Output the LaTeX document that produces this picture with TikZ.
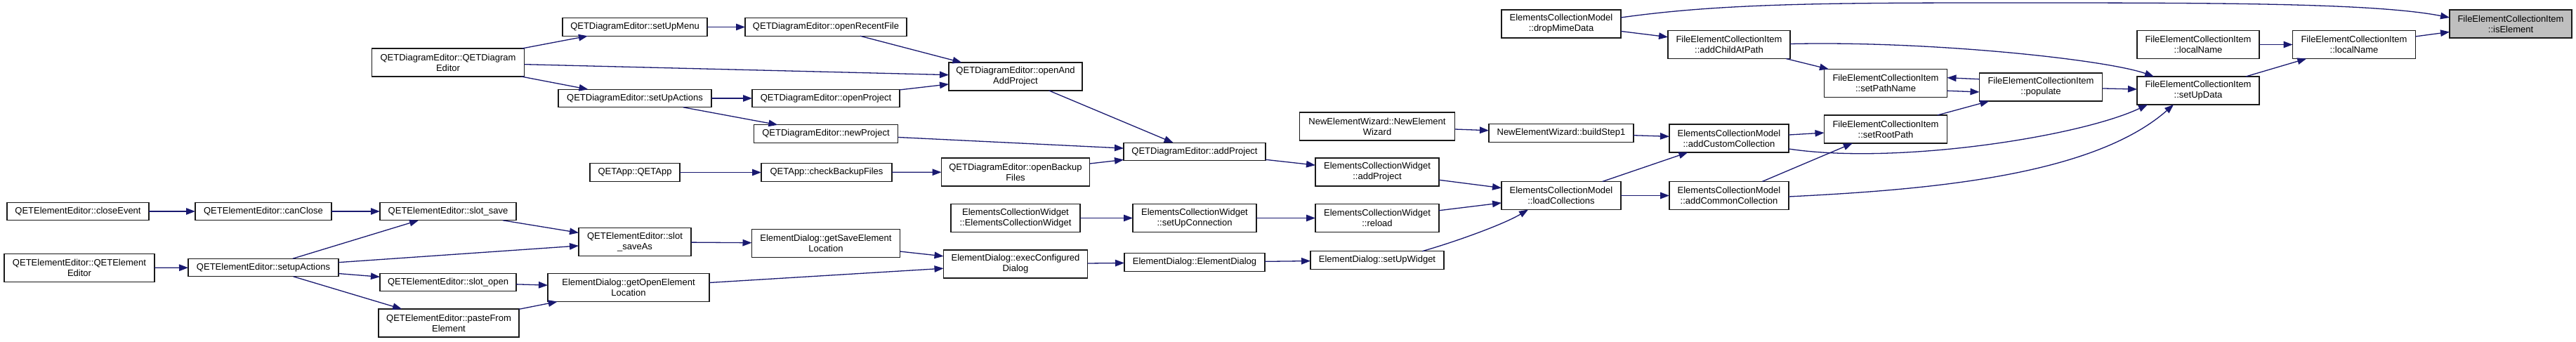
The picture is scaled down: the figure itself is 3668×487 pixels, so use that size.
\documentclass[tikz,border=0pt]{standalone}
\usepackage{fontspec}
\setmainfont{Liberation Sans}
\usetikzlibrary{arrows.meta,calc}
\definecolor{edgec}{HTML}{191970}
\definecolor{hl}{HTML}{BFBFBF}
\begin{document}
\begin{tikzpicture}[x=1pt,y=-1pt,
  box/.style={draw=black!90,line width=1.4pt,fill=white,inner sep=0pt,outer sep=0pt,align=center,
    font=\fontsize{13}{15}\selectfont,minimum height=25.5pt},
  two/.style={minimum height=40pt},
  cur/.style={fill=hl},
  edge/.style={draw=edgec,line width=1.3pt,-{Triangle[length=13pt,width=9.5pt]}}]
\useasboundingbox (0,0) rectangle (3668,487);
% nodes
\node[box,two,minimum width=217pt] (qdector) at (638,89) {QETDiagramEditor::QETDiagram\\Editor};
\node[box,minimum width=206pt] (setUpMenu) at (904,38.5) {QETDiagramEditor::setUpMenu};
\node[box,minimum width=218pt] (setUpActions) at (904,140) {QETDiagramEditor::setUpActions};
\node[box,minimum width=128pt] (qetapp) at (904,245.5) {QETApp::QETApp};
\node[box,minimum width=202pt] (closeEvent) at (111,301) {QETElementEditor::closeEvent};
\node[box,two,minimum width=214pt] (qeector) at (113,381.5) {QETElementEditor::QETElement\\Editor};
\node[box,minimum width=194pt] (canClose) at (375,301) {QETElementEditor::canClose};
\node[box,minimum width=214pt] (setupActions) at (375,381) {QETElementEditor::setupActions};
\node[box,minimum width=194pt] (slotSave) at (638,301) {QETElementEditor::slot\_save};
\node[box,minimum width=194pt] (slotOpen) at (638,402) {QETElementEditor::slot\_open};
\node[box,two,minimum width=200pt] (pasteFrom) at (639,460) {QETElementEditor::pasteFrom\\Element};
\node[box,two,minimum width=160pt] (saveAs) at (904,344.5) {QETElementEditor::slot\\\_saveAs};
\node[box,two,minimum width=230pt] (getOpen) at (895,409.5) {ElementDialog::getOpenElement\\Location};
\node[box,minimum width=230pt] (openRecent) at (1176,38.5) {QETDiagramEditor::openRecentFile};
\node[box,two,minimum width=190pt] (openAndAdd) at (1446,109) {QETDiagramEditor::openAnd\\AddProject};
\node[box,minimum width=210pt] (openProject) at (1176,140) {QETDiagramEditor::openProject};
\node[box,minimum width=205pt] (newProject) at (1176,190.5) {QETDiagramEditor::newProject};
\node[box,minimum width=202pt] (addProject) at (1701,216) {QETDiagramEditor::addProject};
\node[box,minimum width=186pt] (checkBackup) at (1177,245.5) {QETApp::checkBackupFiles};
\node[box,two,minimum width=211pt] (openBackup) at (1446,245) {QETDiagramEditor::openBackup\\Files};
\node[box,two,minimum width=184pt] (ecwCtor) at (1446,310.5) {ElementsCollectionWidget\\::ElementsCollectionWidget};
\node[box,two,minimum width=176pt] (setUpConn) at (1701,310.5) {ElementsCollectionWidget\\::setUpConnection};
\node[box,two,minimum width=211pt] (getSave) at (1176,346.5) {ElementDialog::getSaveElement\\Location};
\node[box,two,minimum width=205pt] (execConf) at (1446,376) {ElementDialog::execConfigured\\Dialog};
\node[box,minimum width=200pt] (edCtor) at (1701,373.5) {ElementDialog::ElementDialog};
\node[box,two,minimum width=170pt] (dropMime) at (2223,34) {ElementsCollectionModel\\::dropMimeData};
\node[box,two,minimum width=174pt] (addChild) at (2462,63.5) {FileElementCollectionItem\\::addChildAtPath};
\node[box,two,minimum width=175pt] (setPathName) at (2685,118.5) {FileElementCollectionItem\\::setPathName};
\node[box,two,minimum width=221pt] (wizCtor) at (1961,180) {NewElementWizard::NewElement\\Wizard};
\node[box,minimum width=206pt] (buildStep1) at (2223,189.5) {NewElementWizard::buildStep1};
\node[box,two,minimum width=170pt] (addCustom) at (2462,197) {ElementsCollectionModel\\::addCustomCollection};
\node[box,two,minimum width=175pt] (setRootPath) at (2685,184) {FileElementCollectionItem\\::setRootPath};
\node[box,two,minimum width=176pt] (ecwAddProject) at (1961,245) {ElementsCollectionWidget\\::addProject};
\node[box,two,minimum width=176pt] (reload) at (1961,310.5) {ElementsCollectionWidget\\::reload};
\node[box,minimum width=190pt] (setUpWidget) at (1961,370.5) {ElementDialog::setUpWidget};
\node[box,two,minimum width=170pt] (loadColl) at (2223,278.5) {ElementsCollectionModel\\::loadCollections};
\node[box,two,minimum width=170pt] (addCommon) at (2462,278.5) {ElementsCollectionModel\\::addCommonCollection};
\node[box,two,cur,minimum width=174pt] (isElement) at (3575,34) {FileElementCollectionItem\\::isElement};
\node[box,two,minimum width=174pt] (localName1) at (3130,63.5) {FileElementCollectionItem\\::localName};
\node[box,two,minimum width=175pt] (localName2) at (3352,63.5) {FileElementCollectionItem\\::localName};
\node[box,two,minimum width=175pt] (populate) at (2906,124) {FileElementCollectionItem\\::populate};
\node[box,two,minimum width=174pt] (setUpData) at (3130,129) {FileElementCollectionItem\\::setUpData};
% edges
\draw[edge] (qdector) -- (setUpMenu);
\draw[edge] (qdector) -- (openAndAdd);
\draw[edge] (qdector) -- (setUpActions);
\draw[edge] (setUpMenu) -- (openRecent);
\draw[edge] (openRecent) -- (openAndAdd);
\draw[edge] (setUpActions) -- (openProject);
\draw[edge] (setUpActions) -- (newProject);
\draw[edge] (openProject) -- (openAndAdd);
\draw[edge] (openAndAdd) -- (addProject);
\draw[edge] (newProject) -- (addProject);
\draw[edge] (openBackup) -- (addProject);
\draw[edge] (qetapp) -- (checkBackup);
\draw[edge] (checkBackup) -- (openBackup);
\draw[edge] (addProject) -- (ecwAddProject);
\draw[edge] (closeEvent) -- (canClose);
\draw[edge] (canClose) -- (slotSave);
\draw[edge] (slotSave) -- (saveAs);
\draw[edge] (qeector) -- (setupActions);
\draw[edge] (setupActions) -- (slotSave);
\draw[edge] (setupActions) -- (saveAs);
\draw[edge] (setupActions) -- (slotOpen);
\draw[edge] (setupActions) -- (pasteFrom);
\draw[edge] (slotOpen) -- (getOpen);
\draw[edge] (pasteFrom) -- (getOpen);
\draw[edge] (saveAs) -- (getSave);
\draw[edge] (getSave) -- (execConf);
\draw[edge] (getOpen) -- (execConf);
\draw[edge] (execConf) -- (edCtor);
\draw[edge] (edCtor) -- (setUpWidget);
\draw[edge] (ecwCtor) -- (setUpConn);
\draw[edge] (setUpConn) -- (reload);
\draw[edge] (ecwAddProject) -- (loadColl);
\draw[edge] (reload) -- (loadColl);
\draw[edge] ($(setUpWidget.north)+(64,0)$) .. controls (2070,345) and (2140,320) .. ($(loadColl.south)+(-47,0)$);
\draw[edge] (loadColl) -- (addCustom);
\draw[edge] (loadColl) -- (addCommon);
\draw[edge] (wizCtor) -- (buildStep1);
\draw[edge] (buildStep1) -- (addCustom);
\draw[edge] (addCustom) -- (setRootPath);
\draw[edge] ($(addCustom.east)+(0,15)$) .. controls (2700,235) and (2960,195) .. ($(setUpData.south)+(-72,0)$);
\draw[edge] (addCommon) -- (setRootPath);
\draw[edge] ($(addCommon.east)+(0,1.5)$) .. controls (2750,270) and (2980,250) .. ($(setUpData.south)+(-35,0)$);
\draw[edge] ($(dropMime.east)+(0,-9)$) .. controls (2450,5) and (2600,4) .. (2850,4) .. controls (3150,4) and (3380,4) .. ($(isElement.west)+(0,-9)$);
\draw[edge] (dropMime) -- (addChild);
\draw[edge] (addChild) -- (setPathName);
\draw[edge] ($(addChild.east)+(0,-1)$) .. controls (2750,58) and (3000,85) .. ($(setUpData.north)+(-63,0)$);
\draw[edge] ($(populate.west)+(0,-11.3)$) -- ($(setPathName.east)+(0,-7.8)$);
\draw[edge] ($(setPathName.east)+(0,10.8)$) -- ($(populate.west)+(0,7)$);
\draw[edge] (setRootPath) -- (populate);
\draw[edge] (populate) -- (setUpData);
\draw[edge] (setUpData) -- (localName2);
\draw[edge] (localName1) -- (localName2);
\draw[edge] (localName2) -- (isElement);
\end{tikzpicture}
\end{document}
